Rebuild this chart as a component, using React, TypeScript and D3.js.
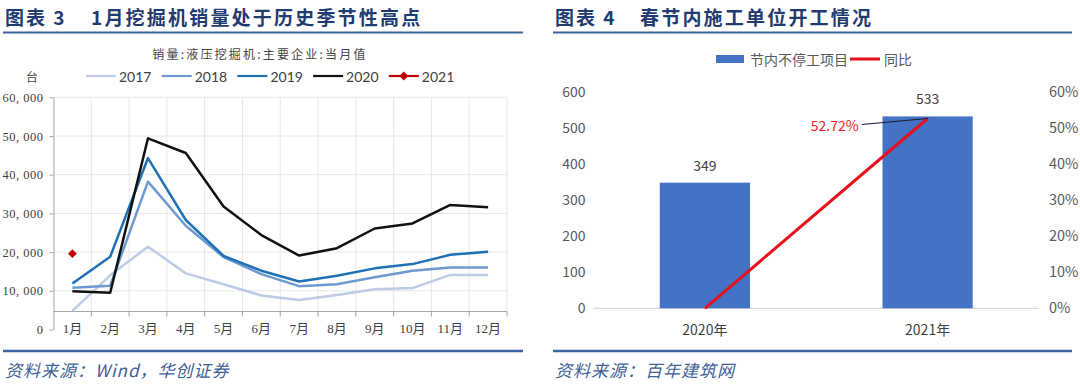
import React, { useEffect, useRef } from 'react';
import * as d3 from 'd3';

// left chart: excavator monthly sales (units)
const months = ['1月', '2月', '3月', '4月', '5月', '6月', '7月', '8月', '9月', '10月', '11月', '12月'];
const sales2017 = [4800, 14000, 21400, 14500, 11700, 8800, 7600, 8900, 10400, 10700, 14100, 14100];
const sales2018 = [10800, 11300, 38200, 26800, 18700, 14300, 11200, 11700, 13500, 15200, 16000, 16000];
const sales2019 = [11900, 18800, 44300, 28300, 19000, 15200, 12400, 13900, 15800, 16900, 19300, 20100];
const sales2020 = [9900, 9500, 49400, 45600, 31800, 24400, 19100, 21000, 26100, 27400, 32200, 31600];
const sales2021 = [19600];
const seriesNames = ['2017', '2018', '2019', '2020', '2021'];
const seriesColors = ['#bccbe6', '#6c9ad0', '#1f70b4', '#111111', '#c00000'];
const salesTicks = [0, 10000, 20000, 30000, 40000, 50000, 60000];

// right chart: projects working through the Spring Festival
const years = ['2020年', '2021年'];
const projects = [349, 533];
const yoy = [0, 0.5272];
const projTicks = [0, 100, 200, 300, 400, 500, 600];
const yoyTicks = [0, 0.1, 0.2, 0.3, 0.4, 0.5, 0.6];

const TITLE = '#1f3b70';
const RULE = '#3a64a0';
const SOURCE = '#3d5f96';
const CJK = '"Noto Sans CJK SC", sans-serif';
const SERIF = '"Liberation Serif", "Noto Sans CJK SC", serif';

const App: React.FC = () => {
    const svgRef = useRef<SVGSVGElement>(null);

    useEffect(() => {
        if (!svgRef.current) return;
        const svg = d3.select(svgRef.current);
        svg.selectAll('*').remove();

        // ---------- headers & footers ----------
        const panels = [
            { x0: 3, x1: 523, tx: 5, mx: 91, label: '图表 3', title: '1月挖掘机销量处于历史季节性高点', src: '资料来源：Wind，华创证券' },
            { x0: 553, x1: 1072, tx: 555, mx: 640, label: '图表 4', title: '春节内施工单位开工情况', src: '资料来源：百年建筑网' }
        ];
        panels.forEach(p => {
            svg.append('text').attr('x', p.tx).attr('y', 16).attr('dominant-baseline', 'central')
                .style('font', `700 19px ${CJK}`).style('letter-spacing', '2px').attr('fill', TITLE).text(p.label);
            svg.append('text').attr('x', p.mx).attr('y', 16).attr('dominant-baseline', 'central')
                .style('font', `700 19px ${CJK}`).style('letter-spacing', '2.2px').attr('fill', TITLE).text(p.title);
            svg.append('line').attr('x1', p.x0).attr('x2', p.x1).attr('y1', 32.5).attr('y2', 32.5)
                .attr('stroke', RULE).attr('stroke-width', 2);
            svg.append('line').attr('x1', p.x0).attr('x2', p.x1).attr('y1', 351).attr('y2', 351)
                .attr('stroke', RULE).attr('stroke-width', 2.5);
            svg.append('text').attr('x', p.tx).attr('y', 369).attr('dominant-baseline', 'central')
                .style('font', `italic 17px ${CJK}`).style('letter-spacing', '1px').attr('fill', SOURCE).text(p.src);
        });

        // ---------- left chart ----------
        const x = d3.scaleBand<string>().domain(months).range([53.5, 507]);
        const y = d3.scaleLinear().domain([0, 60000]).range([329.5, 97.3]);
        const catAxisValue = 4650;
        const left = svg.append('g');

        left.append('text').attr('x', 260).attr('y', 53).attr('text-anchor', 'middle').attr('dominant-baseline', 'central')
            .style('font', `12px ${CJK}`).style('letter-spacing', '2.2px').attr('fill', '#444')
            .text('销量:液压挖掘机:主要企业:当月值');

        // grid
        left.selectAll('line.hgrid').data(salesTicks.filter(d => d > 0)).join('line')
            .attr('class', 'hgrid').attr('x1', x.range()[0]).attr('x2', x.range()[1])
            .attr('y1', d => y(d)).attr('y2', d => y(d)).attr('stroke', '#e6e6e6');
        const bounds = months.slice(1).map(m => x(m)!).concat([x.range()[1]]);
        left.selectAll('line.vgrid').data(bounds).join('line')
            .attr('class', 'vgrid').attr('x1', d => d).attr('x2', d => d)
            .attr('y1', y(60000)).attr('y2', y(catAxisValue)).attr('stroke', '#e6e6e6');

        // category axis
        left.append('line').attr('x1', x.range()[0]).attr('x2', x.range()[1])
            .attr('y1', y(catAxisValue)).attr('y2', y(catAxisValue)).attr('stroke', '#a6a6a6');
        left.selectAll('line.xtick').data(bounds).join('line')
            .attr('class', 'xtick').attr('x1', d => d).attr('x2', d => d)
            .attr('y1', y(catAxisValue)).attr('y2', y(catAxisValue) + 5).attr('stroke', '#a6a6a6');
        left.selectAll('text.month').data(months).join('text')
            .attr('class', 'month').attr('x', d => x(d)! + x.bandwidth() / 2).attr('y', y(0) - 1)
            .attr('text-anchor', 'middle').attr('dominant-baseline', 'central')
            .style('font', `13px ${SERIF}`).attr('fill', '#404040').text(d => d);

        // value axis
        const yAxis = left.append('g').attr('transform', `translate(${x.range()[0]},0)`)
            .call(d3.axisLeft(y).tickValues(salesTicks).tickSize(4).tickSizeOuter(0).tickPadding(6)
                .tickFormat(d => d3.format(',')(d as number).replace(',', ', ')));
        yAxis.select('.domain').attr('stroke', '#a6a6a6');
        yAxis.selectAll('line').attr('stroke', '#a6a6a6');
        yAxis.selectAll('text').style('font', `12.5px ${SERIF}`).style('letter-spacing', '0.5px').attr('fill', '#404040');

        left.append('text').attr('x', 32).attr('y', 76).attr('text-anchor', 'middle').attr('dominant-baseline', 'central')
            .style('font', `12px ${CJK}`).attr('fill', '#404040').text('台');

        // lines
        const line = d3.line<number>()
            .x((_, i) => x(months[i])! + x.bandwidth() / 2)
            .y(d => y(d));
        [sales2017, sales2018, sales2019, sales2020].forEach((s, i) => {
            left.append('path').datum(s).attr('d', line).attr('fill', 'none')
                .attr('stroke', seriesColors[i]).attr('stroke-width', 2.5).attr('stroke-linejoin', 'round');
        });
        const diamond = d3.symbol().type(d3.symbolDiamond2).size(50);
        left.selectAll('path.pt2021').data(sales2021).join('path')
            .attr('class', 'pt2021').attr('d', diamond)
            .attr('transform', (d, i) => `translate(${x(months[i])! + x.bandwidth() / 2},${y(d)})`)
            .attr('fill', seriesColors[4]);

        // legend
        const lg = left.selectAll('g.lg').data(seriesNames).join('g')
            .attr('class', 'lg').attr('transform', (_, i) => `translate(${86 + i * 75.7},76)`);
        lg.append('line').attr('x1', 0).attr('x2', 30).attr('stroke', (_, i) => seriesColors[i]).attr('stroke-width', 2.2);
        lg.filter((_, i) => i === 4).append('path').attr('d', diamond).attr('transform', 'translate(15,0)')
            .attr('fill', seriesColors[4]);
        lg.append('text').attr('x', 33).attr('dominant-baseline', 'central')
            .style('font', '14px Lato, sans-serif').attr('fill', '#404040').text(d => d);

        // ---------- right chart ----------
        const xb = d3.scaleBand<string>().domain(years).range([593.5, 1039]).paddingInner(0.595).paddingOuter(0.2975);
        const yl = d3.scaleLinear().domain([0, 600]).range([308.3, 92.3]);
        const yr = d3.scaleLinear().domain([0, 0.6]).range([308.3, 92.3]);
        const right = svg.append('g');

        const la = right.append('g').attr('transform', `translate(${xb.range()[0]},0)`)
            .call(d3.axisLeft(yl).tickValues(projTicks).tickSize(0).tickPadding(8));
        la.select('.domain').remove();
        la.selectAll('text').style('font', `14px ${CJK}`).attr('fill', '#595959');
        const ra = right.append('g').attr('transform', `translate(${xb.range()[1]},0)`)
            .call(d3.axisRight(yr).tickValues(yoyTicks).tickSize(0).tickPadding(10).tickFormat(d3.format('.0%')));
        ra.select('.domain').remove();
        ra.selectAll('text').style('font', `14.5px ${CJK}`).attr('fill', '#595959');

        right.append('line').attr('x1', xb.range()[0]).attr('x2', xb.range()[1])
            .attr('y1', yl(0)).attr('y2', yl(0)).attr('stroke', '#d9d9d9').attr('stroke-width', 1.2);

        right.selectAll('rect.bar').data(projects).join('rect')
            .attr('class', 'bar').attr('x', (_, i) => xb(years[i])!).attr('width', xb.bandwidth())
            .attr('y', d => yl(d)).attr('height', d => yl(0) - yl(d)).attr('fill', '#4472c4');
        right.selectAll('text.val').data(projects).join('text')
            .attr('class', 'val').attr('x', (_, i) => xb(years[i])! + xb.bandwidth() / 2).attr('y', d => yl(d) - 18)
            .attr('text-anchor', 'middle').attr('dominant-baseline', 'central')
            .style('font', `14px ${CJK}`).attr('fill', '#404040').text(d => d);
        right.selectAll('text.cat').data(years).join('text')
            .attr('class', 'cat').attr('x', d => xb(d)! + xb.bandwidth() / 2).attr('y', yl(0) + 21)
            .attr('text-anchor', 'middle').attr('dominant-baseline', 'central')
            .style('font', `14px ${CJK}`).attr('fill', '#404040').text(d => d);

        const yoyLine = d3.line<number>()
            .x((_, i) => xb(years[i])! + xb.bandwidth() / 2)
            .y(d => yr(d));
        right.append('path').datum(yoy).attr('d', yoyLine).attr('fill', 'none')
            .attr('stroke', '#e8101c').attr('stroke-width', 3);

        // data label with leader
        const px = xb(years[1])! + xb.bandwidth() / 2;
        const py = yr(yoy[1]);
        right.append('line').attr('x1', px - 66).attr('y1', py + 6).attr('x2', px).attr('y2', py)
            .attr('stroke', '#1a1a2e').attr('stroke-width', 1.2);
        right.append('text').attr('x', px - 69).attr('y', py + 6.5).attr('text-anchor', 'end').attr('dominant-baseline', 'central')
            .style('font', `14px ${CJK}`).attr('fill', '#e8202a').text(d3.format('.2%')(yoy[1]));

        // legend
        right.append('rect').attr('x', 716).attr('y', 55).attr('width', 28).attr('height', 8).attr('fill', '#4472c4');
        right.append('text').attr('x', 750).attr('y', 59).attr('dominant-baseline', 'central')
            .style('font', `14px ${CJK}`).attr('fill', '#595959').text('节内不停工项目');
        right.append('line').attr('x1', 850).attr('x2', 880).attr('y1', 59).attr('y2', 59)
            .attr('stroke', '#e8101c').attr('stroke-width', 3);
        right.append('text').attr('x', 884).attr('y', 59).attr('dominant-baseline', 'central')
            .style('font', `14px ${CJK}`).attr('fill', '#595959').text('同比');
    }, []);

    return (
        <svg ref={svgRef} width={1080} height={386}
            style={{ position: 'absolute', left: 0, top: 0, background: '#fff' }} />
    );
};

export default App;
